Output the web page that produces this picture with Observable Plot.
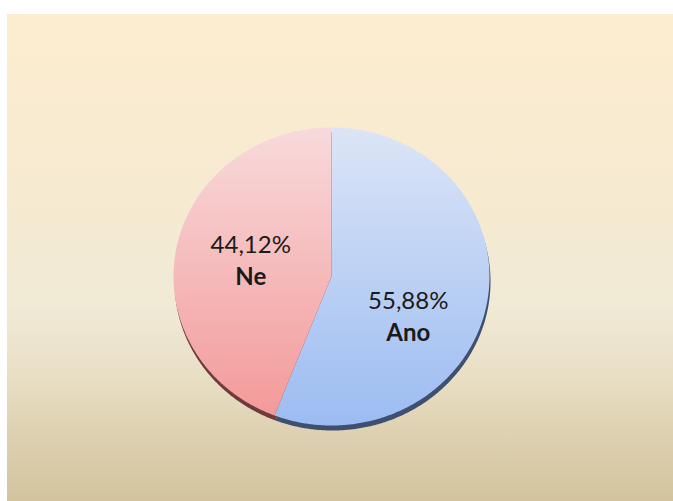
<!DOCTYPE html>
<html>
<head>
<meta charset="utf-8">
<script src="https://cdn.jsdelivr.net/npm/d3@7"></script>
<script src="https://cdn.jsdelivr.net/npm/@observablehq/plot@0.6"></script>
<style>
  html, body { margin: 0; padding: 0; background: #ffffff; }
  #panel {
    position: absolute; left: 7px; top: 14px; width: 666px; height: 487px;
    background: linear-gradient(to bottom, #FDEDD0 0%, #F6EAD0 38%, #F0EAD6 60%, #E8DEC4 75%, #DDD0B0 87%, #D3C49E 100%);
  }
  #panel svg { background: transparent; display: block; }
</style>
</head>
<body>
<div id="panel"></div>
<script>
const categories = ["Ano", "Ne"];
const values = [55.88, 44.12];
const labels = ["55,88%", "44,12%"];

const topColors = ["#DCE5F6", "#F8DADC"];
const bottomColors = ["#9CBCF2", "#F39A99"];
const rimColors = ["#3E4F70", "#6E3A3C"];

const arcs = d3.pie().sort(null).value(d => d.value)(
  categories.map((c, i) => ({ name: c, value: values[i], label: labels[i] }))
);

// polygon points for each slice (unit circle, angle clockwise from top)
function slicePoints(a) {
  const pts = [{ name: a.data.name, x: 0, y: 0 }];
  const n = Math.max(2, Math.ceil((a.endAngle - a.startAngle) / (Math.PI / 360)));
  for (let k = 0; k <= n; k++) {
    const t = a.startAngle + (a.endAngle - a.startAngle) * k / n;
    pts.push({ name: a.data.name, x: Math.sin(t), y: Math.cos(t) });
  }
  return pts;
}
const polys = arcs.map(slicePoints);
const labelPts = arcs.map(a => {
  const m = (a.startAngle + a.endAngle) / 2;
  return { name: a.data.name, label: a.data.label, x: 0.52 * Math.sin(m), y: 0.52 * Math.cos(m) };
});

const marks = [];
// soft shadow
polys.forEach((p, i) => marks.push(Plot.line(p, { x: "x", y: "y", fill: "#5a4a30", fillOpacity: 0.35, stroke: "none", dy: 8, dx: 1, ariaLabel: "shadow" })));
// 3D rim
polys.forEach((p, i) => marks.push(Plot.line(p, { x: "x", y: "y", fill: rimColors[i], stroke: "none", dy: 5, dx: 1 })));
// faces
polys.forEach((p, i) => marks.push(Plot.line(p, { x: "x", y: "y", fill: `url(#grad${i})`, stroke: "none" })));

const adj = { Ano: [-4, 27], Ne: [0, -1] };
labelPts.forEach(l => {
  marks.push(Plot.text([l], { x: "x", y: "y", text: "label", dx: adj[l.name][0], dy: adj[l.name][1] - 16, fontSize: 24, fill: "#1a1a1a", fontFamily: "Lato" }));
  marks.push(Plot.text([l], { x: "x", y: "y", text: "name", dx: adj[l.name][0], dy: adj[l.name][1] + 16, fontSize: 24, fontWeight: "bold", fill: "#1a1a1a", fontFamily: "Lato" }));
});

const chart = Plot.plot({
  width: 666,
  height: 487,
  marginLeft: 166,
  marginRight: 184,
  marginTop: 113,
  marginBottom: 76,
  x: { domain: [-1, 1], axis: null },
  y: { domain: [-1, 1], axis: null },
  style: { background: "transparent", fontFamily: "Lato" },
  marks
});

const svg = d3.select(chart.tagName.toLowerCase() === "svg" ? chart : chart.querySelector("svg"));
const defs = svg.insert("defs", ":first-child");
categories.forEach((c, i) => {
  const g = defs.append("linearGradient").attr("id", `grad${i}`)
    .attr("x1", 0).attr("y1", 0).attr("x2", 0).attr("y2", 1);
  g.append("stop").attr("offset", "0%").attr("stop-color", topColors[i]);
  g.append("stop").attr("offset", "100%").attr("stop-color", bottomColors[i]);
});
const f = defs.append("filter").attr("id", "blur").attr("x", "-20%").attr("y", "-20%").attr("width", "140%").attr("height", "140%");
f.append("feGaussianBlur").attr("stdDeviation", 3);
svg.selectAll('g[aria-label="shadow"]').attr("filter", "url(#blur)");

document.getElementById("panel").appendChild(chart);
</script>
</body>
</html>
